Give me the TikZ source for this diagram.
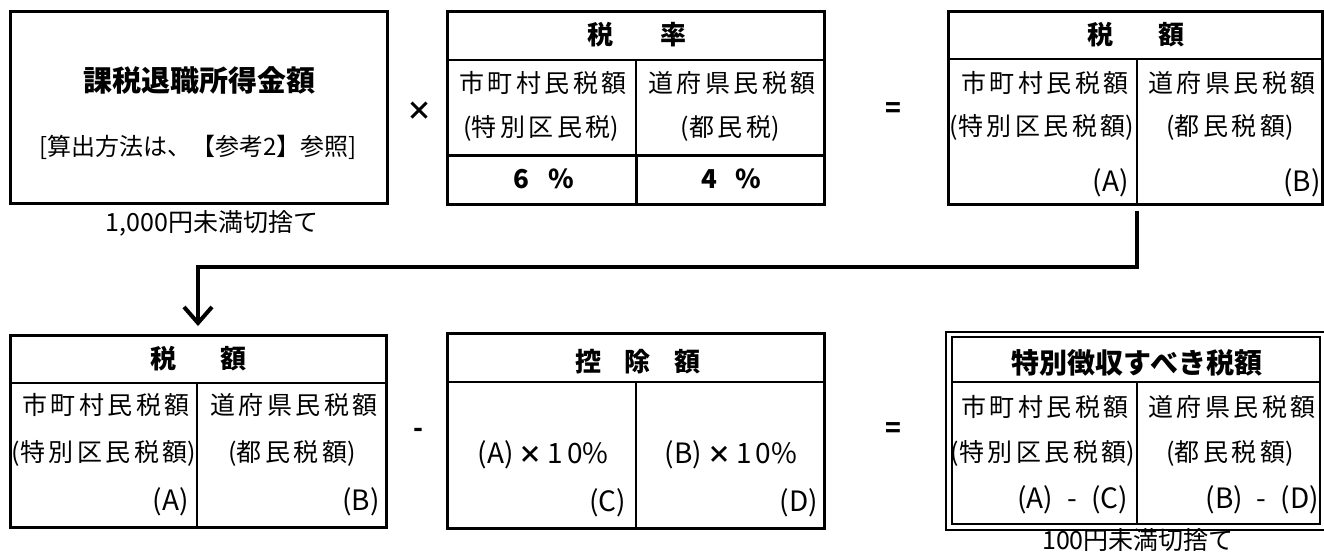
\documentclass[tikz,border=0pt]{standalone}
\usepackage{fontspec}
\setmainfont{Noto Sans CJK JP}
\newfontfamily\jspc[LetterSpace=14]{Noto Sans CJK JP}
\usetikzlibrary{arrows.meta}
\newcommand{\ls}[1]{{\jspc #1}}
\begin{document}
\begin{tikzpicture}[x=1pt,y=-1pt,
  boxs/.style={draw, line width=3pt, inner sep=0pt},
  rule/.style={line width=1.2pt},
  brule/.style={line width=3pt},
  txt/.style={inner sep=0pt, font=\fontsize{25}{28}\selectfont},
  lat/.style={inner sep=0pt, font=\fontsize{28}{30}\selectfont},
  hdr/.style={inner sep=0pt, font=\fontsize{26}{28}\selectfont\bfseries},
  op/.style={inner sep=0pt, font=\fontsize{26}{28}\selectfont\bfseries},
  note/.style={inner sep=0pt, font=\fontsize{25}{28}\selectfont},
  conn/.style={line width=4pt},
]
\useasboundingbox (0,0) rectangle (1324,554);
\fill[white] (0,0) rectangle (1324,554);

% Box 1
\node[boxs, minimum width=377pt, minimum height=192pt] (b1) at (198.5,107) {};
\node[inner sep=0pt, font=\fontsize{29}{32}\selectfont\bfseries] (t1) at (199,80) {課税退職所得金額};
\node[inner sep=0pt, font=\fontsize{24}{28}\selectfont] (t2) at (198,147) {[算出方法は、【参考2】参照]};
\node[note] (n1) at (212,223) {1,000円未満切捨て};

\node[op] (times) at (419,111) {×};

% Box 2: tax rate
\node[boxs, minimum width=377pt, minimum height=193pt] (b2) at (635.5,107.5) {};
\draw[rule] (447,60) -- (824,60);
\draw[rule] (636,60) -- (636,155);
\draw[brule] (447,155) -- (824,155);
\draw[brule] (636,155) -- (636,204);
\node[hdr] (h2a) at (600,35) {税};
\node[hdr] (h2b) at (673,35) {率};
\node[txt] (r2a) at (543,83) {\ls{市町村民税額}};
\node[txt] (r2b) at (732,83) {\ls{道府県民税額}};
\node[txt] (r2c) at (541,128) {(\ls{特別区民税})};
\node[txt] (r2d) at (730,128) {(\ls{都民税})};
\node[op] (p6) at (521,179) {6};
\node[op] (p6b) at (561,179) {\%};
\node[op] (p4) at (709,179) {4};
\node[op] (p4b) at (748,179) {\%};

\node[op] (eq1) at (893,110) {=};

% Box 3: tax amount
\node[boxs, minimum width=374pt, minimum height=193pt] (b3) at (1135,107.5) {};
\draw[rule] (948,59) -- (1322,59);
\draw[rule] (1137,59) -- (1137,204);
\node[hdr] (h3a) at (1100,35) {税};
\node[hdr] (h3b) at (1171,35) {額};
\node[txt] (r3a) at (1045,83) {\ls{市町村民税額}};
\node[txt] (r3b) at (1232,83) {\ls{道府県民税額}};
\node[txt] (r3c) at (1042,127) {(\ls{特別区民税額})};
\node[txt] (r3d) at (1230,127) {(\ls{都民税額})};
\node[lat, anchor=east] (r3e) at (1129,183) {(A)};
\node[lat, anchor=east] (r3f) at (1321,183) {(B)};

% connector
\coordinate (c0) at (1137,211);
\coordinate (c1) at (1137,267);
\coordinate (c2) at (198,267);
\coordinate (tip) at (198,326);
\draw[conn, -{Straight Barb[length=16pt,width=28pt]}] (c0) -- (c1) -- (c2) -- (tip);

% Box 4: tax amount
\node[boxs, minimum width=376pt, minimum height=192pt] (b4) at (198,431) {};
\draw[rule] (10,383) -- (386,383);
\draw[rule] (197,383) -- (197,527);
\node[hdr] (h4a) at (163,359) {税};
\node[hdr] (h4b) at (233,359) {額};
\node[txt] (r4a) at (106,405) {\ls{市町村民税額}};
\node[txt] (r4b) at (294,405) {\ls{道府県民税額}};
\node[txt] (r4c) at (104,453) {(\ls{特別区民税額})};
\node[txt] (r4d) at (292,453) {(\ls{都民税額})};
\node[lat, anchor=east] (r4e) at (189,502) {(A)};
\node[lat, anchor=east] (r4f) at (380,502) {(B)};

\node[op] (minus) at (418,433) {-};

% Box 5: deduction
\node[boxs, minimum width=377pt, minimum height=195pt] (b5) at (635.5,430.5) {};
\draw[rule] (447,382) -- (824,382);
\draw[rule] (636,382) -- (636,528);
\node[hdr] (h5a) at (588,362) {控};
\node[hdr] (h5b) at (637,362) {除};
\node[hdr] (h5c) at (687,362) {額};
\node[lat] (r5a) at (543,455) {(A)\hspace{5pt}{\fontsize{24}{26}\selectfont\bfseries ×}\hspace{5pt}\ls{10}\%};
\node[lat] (r5b) at (731,455) {(B)\hspace{5pt}{\fontsize{24}{26}\selectfont\bfseries ×}\hspace{5pt}\ls{10}\%};
\node[lat, anchor=east] (r5c) at (626,503) {(C)};
\node[lat, anchor=east] (r5d) at (818,503) {(D)};

\node[op] (eq2) at (893,430) {=};

% Box 6: special collection amount (double border)
\node[draw, line width=2.2pt, inner sep=0pt, minimum width=382pt, minimum height=198pt] (b6o) at (1137,431) {};
\node[draw, line width=2.2pt, inner sep=0pt, minimum width=368pt, minimum height=187pt] (b6i) at (1136,430.5) {};
\draw[rule] (952,382) -- (1320,382);
\draw[rule] (1137,382) -- (1137,524);
\node[inner sep=0pt, font=\fontsize{28}{30}\selectfont\bfseries] (h6) at (1137,363) {特別徴収すべき税額};
\node[txt] (r6a) at (1045,407) {\ls{市町村民税額}};
\node[txt] (r6b) at (1232,407) {\ls{道府県民税額}};
\node[txt] (r6c) at (1043,453) {(\ls{特別区民税額})};
\node[txt] (r6d) at (1230,453) {(\ls{都民税額})};
\node[lat, anchor=east] (r6e) at (1128,500) {(A)\hspace{14pt}-\hspace{14pt}(C)};
\node[lat, anchor=east] (r6f) at (1319,500) {(B)\hspace{14pt}-\hspace{14pt}(D)};
\node[note] (n2) at (1138,540) {100円未満切捨て};
\end{tikzpicture}
\end{document}
